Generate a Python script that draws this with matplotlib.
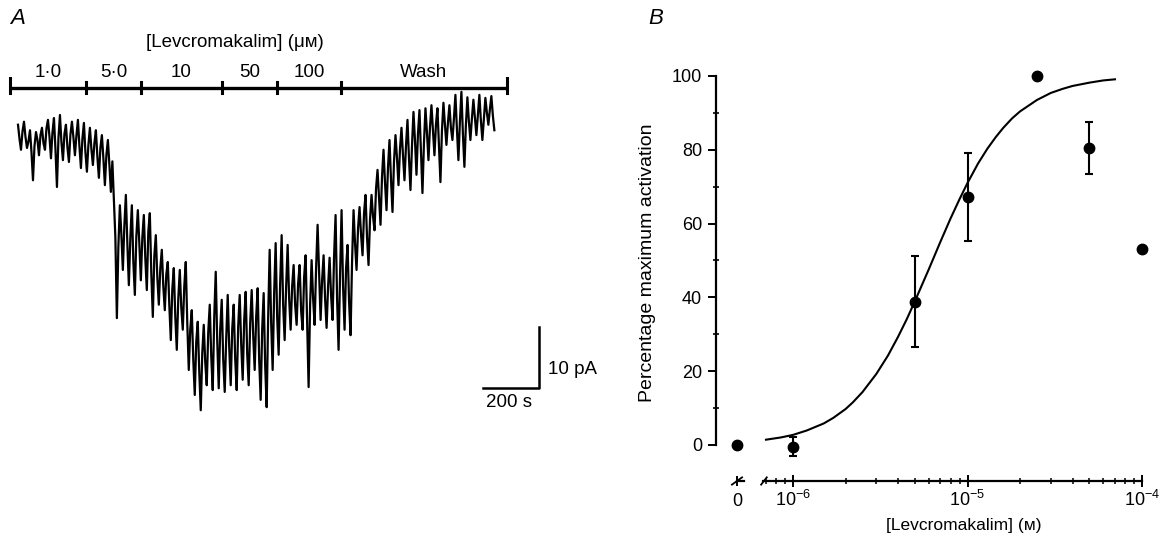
import matplotlib
matplotlib.use("Agg")
import matplotlib.pyplot as plt
from matplotlib.ticker import FixedLocator, NullFormatter
import numpy as np

plt.rcParams['font.family'] = ['Liberation Sans', 'DejaVu Sans']

# ---- panel A: whole-cell current trace (pA), sampled every dt seconds
dt = 5.35
trace = [
    2.5, 0.2, -1.6, 1.4, 3.0, 0.5, -1.3, -0.2, 1.6, -2.0, -6.6, -1.0, 1.3, 0.0, -2.5, 0.8, 2.0, -0.5, -1.6, 1.9,
    3.3, 0.6, -3.0, 1.2, 3.6, -1.5, -7.7, 0.3, 4.1, -0.4, -3.3, 1.0, 2.5, -1.2, -3.6, 0.9, 3.0, 0.4, -2.5, 0.7,
    3.3, -1.0, -4.6, 0.2, 2.8, -2.0, -5.2, -0.8, 2.0, -1.5, -4.1, -0.5, 1.6, -2.8, -6.2, -1.3, 0.8, -3.0, -7.4, -2.5,
    0.0, -4.0, -8.5, -3.5, -9.8, -16.0, -29.2, -17.5, -10.7, -15.5, -21.3, -14.0, -9.0, -17.0, -23.8, -16.0, -10.7, -20.0, -25.4, -15.8,
    -11.5, -17.0, -23.0, -16.0, -12.3, -19.5, -24.6, -15.0, -12.0, -22.0, -29.0, -19.0, -15.6, -22.5, -27.0, -21.0, -18.0, -24.0, -27.9, -22.0,
    -20.0, -27.0, -32.8, -24.5, -21.0, -29.0, -34.4, -26.0, -21.3, -27.5, -31.1, -24.0, -20.0, -30.0, -37.7, -31.0, -27.9, -36.0, -41.8, -33.0,
    -29.8, -38.0, -44.3, -35.0, -30.3, -36.5, -40.2, -31.5, -27.0, -35.5, -41.0, -29.0, -21.6, -33.0, -40.7, -31.0, -26.2, -36.0, -41.3, -32.5,
    -25.4, -34.0, -40.2, -31.0, -27.0, -36.0, -41.0, -30.5, -25.4, -33.5, -39.3, -29.5, -24.9, -35.0, -40.2, -30.0, -24.6, -32.0, -37.7, -29.0,
    -24.3, -36.0, -42.6, -31.0, -25.1, -37.0, -43.8, -29.0, -18.0, -30.0, -37.7, -25.0, -16.9, -29.0, -35.2, -23.5, -15.6, -27.0, -32.8, -24.0,
    -17.2, -26.0, -31.1, -24.0, -20.5, -27.0, -30.3, -23.5, -20.5, -28.0, -31.1, -22.5, -18.9, -30.0, -40.5, -27.0, -19.7, -26.0, -30.3, -21.0,
    -13.9, -22.0, -29.5, -23.0, -18.9, -26.0, -30.8, -24.0, -19.3, -25.5, -29.5, -19.0, -12.3, -26.0, -34.4, -22.0, -11.5, -24.0, -31.1, -21.0,
    -17.2, -26.5, -32.0, -20.0, -11.5, -17.0, -21.3, -14.5, -11.0, -15.5, -18.9, -12.0, -9.0, -16.0, -20.5, -13.0, -9.0, -12.5, -14.8, -8.0,
    -4.9, -9.5, -13.9, -6.0, -1.6, -7.0, -11.5, -4.5, 0.0, -6.5, -11.8, -3.5, 0.8, -3.0, -7.4, -1.5, 2.0, -2.5, -6.6, -1.0,
    3.3, -3.0, -8.2, -1.0, 4.6, 0.0, -5.7, 1.0, 4.9, -2.0, -8.7, -0.5, 5.2, 1.2, -3.3, 2.0, 5.7, 1.5, -2.5, 2.5,
    5.2, -1.0, -6.9, 1.5, 6.1, 2.5, -0.8, 2.8, 5.7, 2.0, 0.0, 3.5, 7.4, 1.8, -3.3, 3.0, 7.9, 1.0, -4.4, 2.5,
    7.0, 3.0, 0.0, 3.5, 6.6, 3.8, 0.8, 4.0, 7.4, 3.2, 0.0, 3.5, 6.9, 4.5, 2.5, 5.0, 7.2, 4.0, 1.6,
]

# drug application periods (s) and labels
period_edges = [-30, 243, 439, 729, 925, 1153, 1746]
period_labels = ['1·0', '5·0', '10', '50', '100', 'Wash']

# ---- panel B: concentration-response
conc = [1e-6, 5e-6, 1e-5, 2.5e-5, 5e-5, 1e-4]
activation = [-0.5, 38.8, 67.2, 100.0, 80.5, 53.0]
sem = [2.5, 12.3, 11.9, 0.0, 7.0, 0.0]
control_act = 0.0

# fitted curve
fit_conc = [7e-7, 8.5e-7, 1e-6, 1.2e-6, 1.5e-6, 1.7e-6, 2e-6, 2.2e-6, 2.5e-6, 3e-6,
            3.5e-6, 4e-6, 4.5e-6, 5e-6, 5.5e-6, 6e-6, 7e-6, 8e-6, 9e-6, 1e-5,
            1.15e-5, 1.3e-5, 1.45e-5, 1.6e-5, 1.8e-5, 2e-5, 2.5e-5, 3e-5, 3.5e-5,
            4e-5, 5e-5, 6e-5, 7e-5]
fit_act = [1.4, 2.0, 2.7, 3.9, 5.8, 7.3, 9.7, 11.5, 14.3, 19.2,
           24.2, 29.3, 34.2, 39.0, 43.5, 47.6, 55.1, 61.4, 66.6, 71.0,
           76.3, 80.3, 83.4, 85.9, 88.5, 90.4, 93.5, 95.4, 96.5,
           97.3, 98.2, 98.8, 99.1]

W, H = 1170, 536
fig = plt.figure(figsize=(W / 100, H / 100), dpi=100)

# ================= panel A =================
axA = fig.add_axes([0, 0, 600 / W, 1])
s_per_px = 200 / 56
pa_per_px = 10 / 61
axA.set_xlim(-18 * s_per_px, (600 - 18) * s_per_px)
axA.set_ylim(-(H - 140) * pa_per_px, 140 * pa_per_px)
axA.axis('off')

t = np.arange(len(trace)) * dt
axA.plot(t, trace, color='black', lw=1.6)

# application bar
bar_y = 52 * pa_per_px
axA.plot([period_edges[0], period_edges[-1]], [bar_y, bar_y], color='black', lw=2.4,
         solid_capstyle='butt')
for i, e in enumerate(period_edges):
    tall = 1.6 if i in (0, len(period_edges) - 1) else 1.0
    axA.plot([e, e], [bar_y - 0.75, bar_y + tall], color='black', lw=2.2)
for lab, a, b in zip(period_labels, period_edges[:-1], period_edges[1:]):
    axA.text((a + b) / 2, bar_y + 1.1, lab, ha='center', va='bottom', fontsize=13.5)
axA.text(775, 16.0, '[Levcromakalim] (μᴍ)', ha='center', va='center', fontsize=13.5)

# scale bars
sb_x0 = (483 - 18) * s_per_px
sb_y0 = -(388 - 140) * pa_per_px
axA.plot([sb_x0, sb_x0 + 200, sb_x0 + 200], [sb_y0, sb_y0, sb_y0 + 10],
         color='black', lw=1.8)
axA.text(sb_x0 + 200 + 9 * s_per_px, sb_y0 + 3, '10 pA', ha='left', va='center', fontsize=13.5)
axA.text(sb_x0 + 100 - 2 * s_per_px, sb_y0 - 1.0, '200 s', ha='center', va='top', fontsize=13.5)

fig.text(10 / W, 1 - 19 / H, 'A', fontsize=16, style='italic', va='center', ha='left')
fig.text(648 / W, 1 - 19 / H, 'B', fontsize=16, style='italic', va='center', ha='left')

# ================= panel B =================
ybot = (H - 481) / H
yh = 405 / H
ylo, yhi = -9.8, 100.0

ax0 = fig.add_axes([716 / W, ybot, 42 / W, yh])
ax = fig.add_axes([763 / W, ybot, (1142 - 763) / W, yh])

for a in (ax0, ax):
    a.set_ylim(ylo, yhi)
    a.spines['top'].set_visible(False)
    a.spines['right'].set_visible(False)
    a.patch.set_alpha(0)
    for sp in a.spines.values():
        sp.set_linewidth(1.6)

# zero-concentration axis
ax0.set_xlim(-1, 1)
ax0.plot([0], [control_act], 'o', color='black', ms=7.5, clip_on=False)
ax0.spines['left'].set_bounds(0, 100)
ax0.spines['bottom'].set_bounds(0, 0.35)
ax0.set_xticks([0])
ax0.set_xticklabels(['0'])
ax0.set_yticks(range(0, 101, 20))
ax0.yaxis.set_minor_locator(FixedLocator(range(10, 100, 20)))
ax0.tick_params(axis='y', which='major', direction='out', length=6, width=1.4, labelsize=13, pad=4)
ax0.tick_params(axis='y', which='minor', direction='inout', length=5, width=1.2)
ax0.tick_params(axis='x', which='major', direction='inout', length=7, width=1.4, labelsize=13, pad=5)
ax0.set_ylabel('Percentage maximum activation', fontsize=14)
ax0.yaxis.set_label_coords(-1.43, 0.54)
ax0.plot([0.38, 0.62], [-0.009, 0.009], transform=ax0.transAxes, color='black', lw=1.3, clip_on=False)

# log concentration axis
ax.set_xscale('log')
ax.set_xlim(6.73e-7, 1e-4)
ax.spines['left'].set_visible(False)
ax.set_yticks([])
ax.set_xticks([1e-6, 1e-5, 1e-4])
ax.set_xticklabels([r'$\mathregular{10^{-6}}$', r'$\mathregular{10^{-5}}$', r'$\mathregular{10^{-4}}$'])
minors = [m * 10.0 ** d for d in (-7, -6, -5) for m in range(2, 10)]
ax.xaxis.set_minor_locator(FixedLocator([v for v in minors if 6.73e-7 < v < 1e-4]))
ax.xaxis.set_minor_formatter(NullFormatter())
ax.tick_params(axis='x', which='major', direction='inout', length=9, width=1.4, labelsize=13, pad=2)
ax.tick_params(axis='x', which='minor', direction='inout', length=5, width=1.1)
ax.plot([-0.005, 0.01], [-0.009, 0.009], transform=ax.transAxes, color='black', lw=1.3, clip_on=False)
ax.set_xlabel('[Levcromakalim] (ᴍ)', fontsize=12.5)
ax.xaxis.set_label_coords(0.53, -0.092)

ax.plot(fit_conc, fit_act, color='black', lw=1.5)
conc_a = np.array(conc)
act_a = np.array(activation)
sem_a = np.array(sem)
has_err = sem_a > 0
ax.errorbar(conc_a[has_err], act_a[has_err], yerr=sem_a[has_err], fmt='o', color='black',
            ms=7.5, elinewidth=1.5, capsize=3, capthick=1.5, clip_on=False)
ax.plot(conc_a[~has_err], act_a[~has_err], 'o', color='black', ms=7.5, clip_on=False)

fig.savefig('out.png', dpi=100)
